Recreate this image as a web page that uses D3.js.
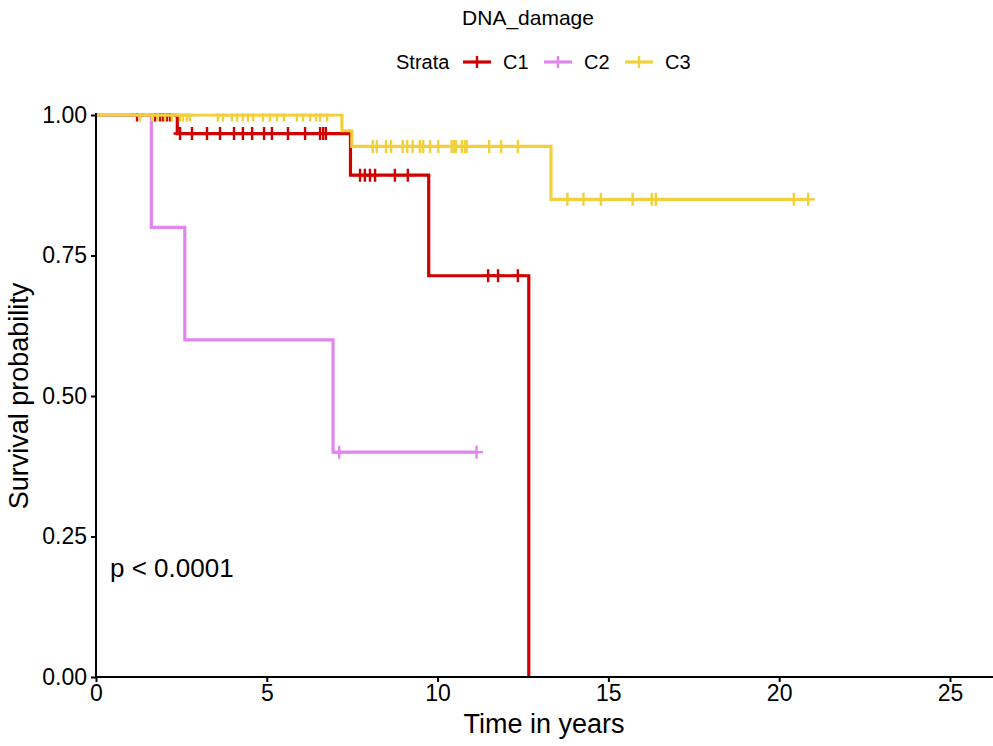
<!DOCTYPE html>
<html><head><meta charset="utf-8">
<script src="https://cdn.jsdelivr.net/npm/d3@7"></script>
<style>body{margin:0;background:#fff}svg{display:block}text{font-family:"Liberation Sans",Arial,Helvetica,sans-serif}</style>
</head><body><svg id="c" width="993" height="746"></svg>
<script>
const strata = ["C1","C2","C3"];
const colors = ["#D10000","#E186EC","#F2D03C"];
// step curves: times of level changes and survival levels
const c1Times = [0, 2.38, 7.45, 9.74, 12.67];
const c1Surv  = [1, 0.967, 0.893, 0.714, 0];
const c1End = 12.67;
const c2Times = [0, 1.62, 2.6, 6.94];
const c2Surv  = [1, 0.8, 0.6, 0.4];
const c2End = 11.14;
const c3Times = [0, 7.2, 7.49, 13.32];
const c3Surv  = [1, 0.972, 0.944, 0.85];
const c3End = 20.85;
// censor times
const c1Cens = [1.2,1.73,1.87,1.96,2.08,2.17, 2.46,2.81,3.25,3.63,4.04,4.30,4.57,4.92,5.15,5.62,6.12,6.56,6.65,6.73, 7.73,7.87,8.02,8.17,8.75,9.13, 11.48,11.77,12.35];
const c2Cens = [7.12, 11.14];
const c3Cens = [1.29,1.64,1.81,2.02,2.22,2.46,2.55,2.66,2.75,3.57,3.72,3.98,4.13,4.30,4.45,4.60,4.89,5.09,5.30,5.50,5.88,6.06,6.27,6.44,6.56,6.77,
  8.10,8.22,8.49,8.64,8.98,9.11,9.27,9.48,9.58,9.78,10.02,10.41,10.48,10.54,10.71,10.80,10.85,11.51,11.86,12.35,
  13.80,14.27,14.78,15.71,16.27,16.39,20.43,20.85];
const xTicks = [0,5,10,15,20,25];
const yTicks = [0,0.25,0.5,0.75,1];

const series = [
  {name:"C1", times:c1Times, surv:c1Surv, end:c1End, cens:c1Cens},
  {name:"C2", times:c2Times, surv:c2Surv, end:c2End, cens:c2Cens},
  {name:"C3", times:c3Times, surv:c3Surv, end:c3End, cens:c3Cens}
];

const svg = d3.select("#c");
const x = d3.scaleLinear().domain([0, 26.26]).range([96, 993]);
const y = d3.scaleLinear().domain([0, 1]).range([677, 115]);

function survAt(s, t){
  let v = s.surv[0];
  for(let i=0;i<s.times.length;i++){ if(s.times[i] <= t) v = s.surv[i]; }
  return v;
}

svg.append("defs").append("clipPath").attr("id","clip")
  .append("rect").attr("x",96).attr("y",113.5).attr("width",897).attr("height",570);

const g = svg.append("g").attr("clip-path","url(#clip)");
const line = d3.line().x(d=>x(d[0])).y(d=>y(d[1])).curve(d3.curveStepAfter);
series.forEach((s,i)=>{
  const pts = s.times.map((t,j)=>[t, s.surv[j]]);
  if (s.end > s.times[s.times.length-1]) pts.push([s.end, s.surv[s.surv.length-1]]);
  g.append("path").attr("d", line(pts)).attr("fill","none")
    .attr("stroke", colors[i]).attr("stroke-width",3.2);
  const cg = g.append("g").attr("stroke", colors[i]).attr("stroke-width",2.4);
  s.cens.forEach(t=>{
    const cx = x(t), cy = y(survAt(s,t));
    cg.append("line").attr("x1",cx).attr("x2",cx).attr("y1",cy-6.5).attr("y2",cy+6.5);
    cg.append("line").attr("x1",cx-6.5).attr("x2",cx+6.5).attr("y1",cy).attr("y2",cy);
  });
});

// axes
const xAxis = svg.append("g").attr("transform","translate(0,677)")
  .call(d3.axisBottom(x).tickValues(xTicks).tickSize(5).tickPadding(3).tickFormat(d3.format("d")));
const yAxis = svg.append("g").attr("transform","translate(96,0)")
  .call(d3.axisLeft(y).tickValues(yTicks).tickSize(5).tickPadding(4).tickFormat(d3.format(".2f")));
[xAxis,yAxis].forEach(a=>{
  a.select(".domain").attr("stroke","#000").attr("stroke-width",2);
  a.selectAll(".tick line").attr("stroke","#000").attr("stroke-width",2);
  a.selectAll(".tick text").attr("fill","#000").style("font-size","23px").style("font-family",'"Liberation Sans",Arial,sans-serif');
});
yAxis.select(".domain").attr("d","M0,113V678");
xAxis.select(".domain").attr("d","M95,0H993");

svg.append("text").attr("x",544).attr("y",733).attr("text-anchor","middle")
  .style("font-size","27px").text("Time in years");
svg.append("text").attr("transform","translate(28,396) rotate(-90)").attr("text-anchor","middle")
  .style("font-size","27px").text("Survival probability");
svg.append("text").attr("x",110).attr("y",577).style("font-size","26px").text("p < 0.0001");

// title + legend
svg.append("text").attr("x",528).attr("y",25).attr("text-anchor","middle")
  .style("font-size","21px").text("DNA_damage");
svg.append("text").attr("x",396).attr("y",69).style("font-size","20px").text("Strata");
const legX = [463, 544, 625];
strata.forEach((n,i)=>{
  const lg = svg.append("g").attr("stroke",colors[i]).attr("stroke-width",3.2);
  lg.append("line").attr("x1",legX[i]).attr("x2",legX[i]+28).attr("y1",62).attr("y2",62);
  lg.append("line").attr("x1",legX[i]+14).attr("x2",legX[i]+14).attr("y1",56).attr("y2",68).attr("stroke-width",2.4);
  svg.append("text").attr("x",legX[i]+40).attr("y",69).style("font-size","20px").text(n);
});
</script></body></html>
